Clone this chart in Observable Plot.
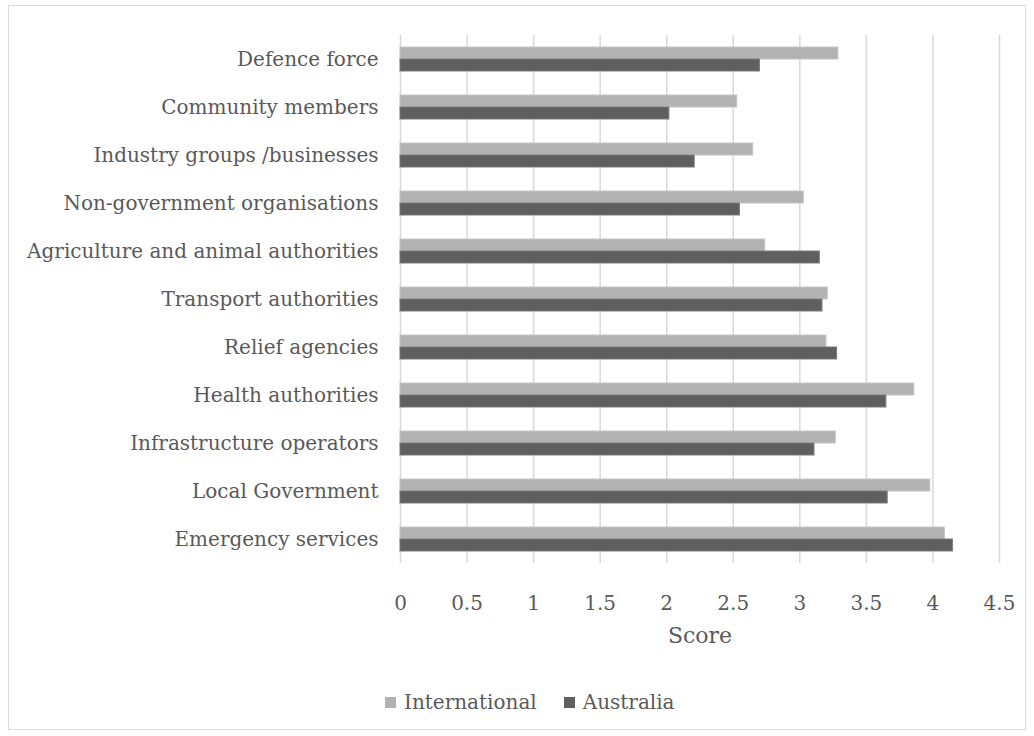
<!DOCTYPE html>
<html>
<head>
<meta charset="utf-8">
<script src="https://cdn.jsdelivr.net/npm/d3@7"></script>
<script src="https://cdn.jsdelivr.net/npm/@observablehq/plot@0.6"></script>
<style>
  html, body { margin: 0; padding: 0; background: #ffffff; }
  body { width: 1034px; height: 736px; position: relative; overflow: hidden; font-family: "DejaVu Serif", serif; color: #595959; }
  #frame { position: absolute; left: 8px; top: 5px; width: 1018px; height: 725px; border: 1.5px solid #d9d9d9; box-sizing: border-box; }
  #chart { position: absolute; left: 0; top: 0; }
  #legend { position: absolute; top: 689px; left: 385px; display: flex; align-items: center; font-size: 20px; line-height: 26px; color: #595959; }
  #legend .item { display: flex; align-items: center; }
  #legend .swatch { width: 11px; height: 11px; margin-right: 8px; }
</style>
</head>
<body>
<div id="frame"></div>
<div id="chart"></div>
<div id="legend"></div>
<script>
// Stakeholder groups, listed from the bottom of the chart to the top
const categories = [
  "Emergency services",
  "Local Government",
  "Infrastructure operators",
  "Health authorities",
  "Relief agencies",
  "Transport authorities",
  "Agriculture and animal authorities",
  "Non-government organisations",
  "Industry groups /businesses",
  "Community members",
  "Defence force"
];

// Mean score per group for each respondent set
const international = [4.09, 3.98, 3.27, 3.86, 3.20, 3.21, 2.74, 3.03, 2.65, 2.53, 3.29];
const australia     = [4.15, 3.66, 3.11, 3.65, 3.28, 3.17, 3.15, 2.55, 2.21, 2.02, 2.70];

const seriesNames = ["International", "Australia"];
const seriesFill = ["#b2b2b2", "#5f5f5f"];
const seriesStroke = ["#c6c6c6", "#7a7a7a"];

const xTicks = [0, 0.5, 1, 1.5, 2, 2.5, 3, 3.5, 4, 4.5];

const rows = categories.flatMap((c, i) => [
  {category: c, series: seriesNames[0], score: international[i]},
  {category: c, series: seriesNames[1], score: australia[i]}
]);

const chart = Plot.plot({
  width: 1034,
  height: 672,
  marginLeft: 400,
  marginRight: 35,
  marginTop: 35,
  marginBottom: 109,
  style: {fontFamily: "DejaVu Serif", fontSize: "20px", color: "#595959", background: "transparent", overflow: "visible"},
  x: {domain: [0, 4.5]},
  fy: {domain: categories.slice().reverse(), padding: 0},
  y: {domain: seriesNames, paddingInner: 0, paddingOuter: 0.92, axis: null},
  marks: [
    Plot.gridX(xTicks, {stroke: "#d9d9d9", strokeOpacity: 1, strokeWidth: 1.5}),
    ...seriesNames.map((s, k) =>
      Plot.barX(rows.filter(d => d.series === s), {
        fy: "category", y: "series", x: "score",
        fill: seriesFill[k], stroke: seriesStroke[k], strokeWidth: 1
      })
    ),
    Plot.axisFy({anchor: "left", tickSize: 0, tickPadding: 22, label: null, fill: "#595959"}),
    Plot.axisX(xTicks, {
      tickSize: 0, tickPadding: 32, tickFormat: d => String(d), fill: "#595959",
      label: null
    }),
    Plot.axisX({
      ticks: [], tickSize: 0, fill: "#595959", fontSize: 22,
      label: "Score", labelAnchor: "center", labelOffset: 79, labelArrow: "none"
    })
  ]
});
document.getElementById("chart").appendChild(chart);

// Legend below the plot
const legend = d3.select("#legend");
seriesNames.forEach((s, k) => {
  const item = legend.append("div").attr("class", "item").style("margin-right", k === 0 ? "27px" : "0");
  item.append("div").attr("class", "swatch").style("background", seriesFill[k]);
  item.append("span").text(s);
});
</script>
</body>
</html>
